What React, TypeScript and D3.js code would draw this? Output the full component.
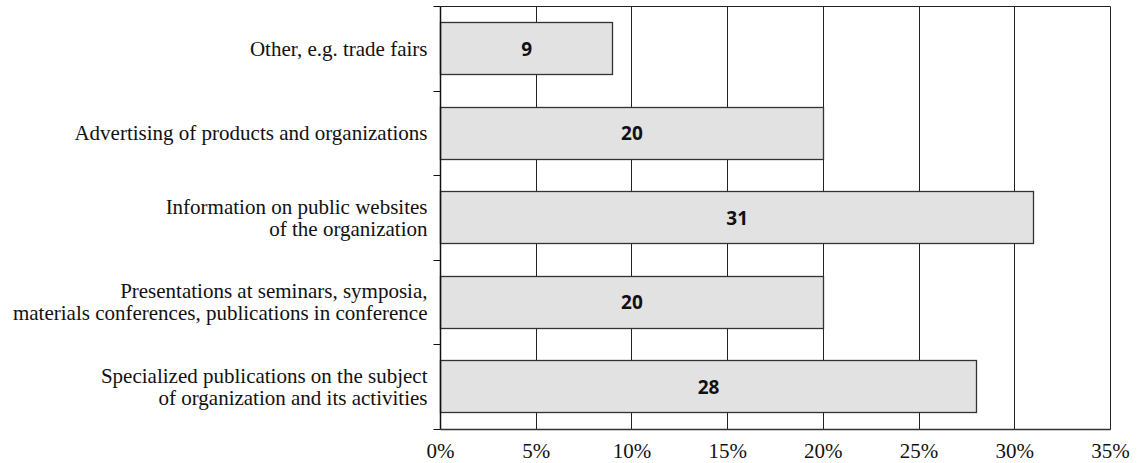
import React, { useEffect, useRef } from 'react'
import * as d3 from 'd3'

const categories: string[][] = [
  ['Other, e.g. trade fairs'],
  ['Advertising of products and organizations'],
  ['Information on public websites', 'of the organization'],
  ['Presentations at seminars, symposia,', 'materials conferences, publications in conference'],
  ['Specialized publications on the subject', 'of organization and its activities'],
]
const values = [9, 20, 31, 20, 28]
const xTicks = [0, 5, 10, 15, 20, 25, 30, 35]

const W = 1142
const H = 463
const margin = { left: 440, top: 6, right: 32, bottom: 34 }

export default function App() {
  const ref = useRef<SVGSVGElement>(null)

  useEffect(() => {
    const svg = d3.select(ref.current)
    svg.selectAll('*').remove()
    const w = W - margin.left - margin.right
    const h = H - margin.top - margin.bottom

    const x = d3.scaleLinear().domain([0, 35]).range([0, w])
    const y = d3.scaleBand<number>()
      .domain(values.map((_, i) => i))
      .range([0, h])
      .paddingInner(0.38)
      .paddingOuter(0.19)
    const bandY = d3.scaleBand<number>()
      .domain(values.map((_, i) => i))
      .range([0, h])

    const g = svg.append('g')
      .attr('transform', `translate(${margin.left + 0.5}, ${margin.top + 0.5})`)

    // gridlines
    g.selectAll('line.grid')
      .data(xTicks.slice(1))
      .enter().append('line')
      .attr('class', 'grid')
      .attr('x1', d => Math.round(x(d)))
      .attr('x2', d => Math.round(x(d)))
      .attr('y1', 0)
      .attr('y2', h)
      .attr('stroke', '#222')
      .attr('stroke-width', 1)

    // top border
    g.append('line')
      .attr('x1', 0).attr('x2', w)
      .attr('y1', 0).attr('y2', 0)
      .attr('stroke', '#222')

    // bars
    g.selectAll('rect.bar')
      .data(values)
      .enter().append('rect')
      .attr('class', 'bar')
      .attr('x', 0)
      .attr('y', (_, i) => Math.round(y(i)!))
      .attr('width', d => Math.round(x(d)))
      .attr('height', Math.round(y.bandwidth()))
      .attr('fill', '#e2e2e2')
      .attr('stroke', '#333')
      .attr('stroke-width', 1.3)

    g.selectAll('text.val')
      .data(values)
      .enter().append('text')
      .attr('class', 'val')
      .attr('x', d => x(d) / 2)
      .attr('y', (_, i) => y(i)! + y.bandwidth() / 2)
      .attr('dy', '0.36em')
      .attr('text-anchor', 'middle')
      .style('font-family', '"Open Sans", sans-serif')
      .style('font-weight', 700)
      .style('font-size', '19px')
      .attr('fill', '#111')
      .text(d => d)

    // left axis line and outer ticks
    g.append('line')
      .attr('x1', 0).attr('x2', 0)
      .attr('y1', 0).attr('y2', h)
      .attr('stroke', '#111').attr('stroke-width', 1.5)
    const boundaries = d3.range(values.length + 1).map(i => i === values.length ? h : bandY(i)!)
    g.selectAll('line.ytick')
      .data(boundaries)
      .enter().append('line')
      .attr('class', 'ytick')
      .attr('x1', -7).attr('x2', 0)
      .attr('y1', d => Math.round(d))
      .attr('y2', d => Math.round(d))
      .attr('stroke', '#111')

    // bottom axis
    g.append('line')
      .attr('x1', 0).attr('x2', w)
      .attr('y1', h).attr('y2', h)
      .attr('stroke', '#333').attr('stroke-width', 1.5)

    g.selectAll('text.xt')
      .data(xTicks)
      .enter().append('text')
      .attr('class', 'xt')
      .attr('x', d => x(d))
      .attr('y', h + 28)
      .attr('text-anchor', 'middle')
      .style('font-family', '"Liberation Serif", serif')
      .style('font-size', '21px')
      .attr('fill', '#111')
      .text(d => `${d}%`)

    // category labels
    const labels = g.selectAll('text.cat')
      .data(categories)
      .enter().append('text')
      .attr('class', 'cat')
      .attr('text-anchor', 'end')
      .style('font-family', '"Liberation Serif", serif')
      .style('font-size', '21px')
      .attr('fill', '#111')
      .attr('transform', (_, i) => `translate(-13, ${bandY(i)! + bandY.bandwidth() / 2})`)

    labels.selectAll('tspan')
      .data(d => d.map((line, j) => ({ line, j, n: d.length })))
      .enter().append('tspan')
      .attr('x', 0)
      .attr('y', d => (d.j - (d.n - 1) / 2) * 22)
      .attr('dy', '0.32em')
      .text(d => d.line)
  }, [])

  return (
    <svg ref={ref} width={W} height={H}
      style={{ position: 'absolute', left: 0, top: 0, background: '#fff' }} />
  )
}
